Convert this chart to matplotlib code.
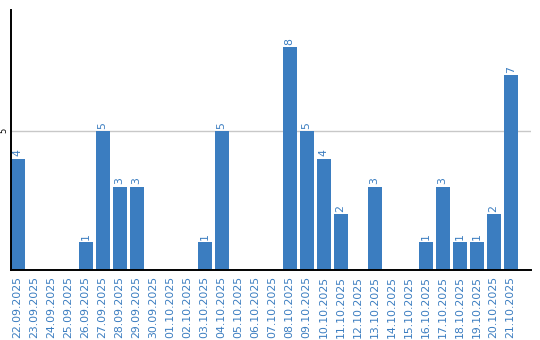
import matplotlib
matplotlib.use('Agg')
import matplotlib.pyplot as plt
import numpy as np

# dates and daily counts
dates = ['22.09.2025', '23.09.2025', '24.09.2025', '25.09.2025', '26.09.2025',
         '27.09.2025', '28.09.2025', '29.09.2025', '30.09.2025', '01.10.2025',
         '02.10.2025', '03.10.2025', '04.10.2025', '05.10.2025', '06.10.2025',
         '07.10.2025', '08.10.2025', '09.10.2025', '10.10.2025', '11.10.2025',
         '12.10.2025', '13.10.2025', '14.10.2025', '15.10.2025', '16.10.2025',
         '17.10.2025', '18.10.2025', '19.10.2025', '20.10.2025', '21.10.2025']
counts = [4, 0, 0, 0, 1, 5, 3, 3, 0, 0,
          0, 1, 5, 0, 0, 0, 8, 5, 4, 2,
          0, 3, 0, 0, 1, 3, 1, 1, 2, 7]

blue = '#3b7dc0'

fig = plt.figure(figsize=(5.4, 3.4), dpi=100)
ax = fig.add_axes([0.0198, 0.206, 0.963, 0.765])

x = np.arange(len(dates))
width = 0.82
ax.bar(x, counts, width=width, color=blue, zorder=2)

# value labels above the bars
for xi, c in zip(x, counts):
    if c > 0:
        ax.text(xi, c + 0.08, str(c), rotation=90, ha='center', va='bottom',
                color=blue, fontsize=7.8)

ax.set_xlim(-width / 2, 30.18)
ax.set_ylim(0, 9.35)
ax.set_xticks(x)
ax.set_xticklabels(dates, rotation=90, color=blue, fontsize=7.8)
ax.set_yticks([5])
ax.set_yticklabels(['5'], rotation=90, fontsize=6, va='center', color='black')
ax.tick_params(axis='both', length=0)
ax.tick_params(axis='x', pad=4)
ax.tick_params(axis='y', pad=2)

ax.grid(axis='y', color='#c8c8c8', linewidth=1, zorder=1)
ax.spines['top'].set_visible(False)
ax.spines['right'].set_visible(False)
ax.spines['left'].set_linewidth(1.4)
ax.spines['bottom'].set_linewidth(1.4)

fig.savefig('out.png', dpi=100)
